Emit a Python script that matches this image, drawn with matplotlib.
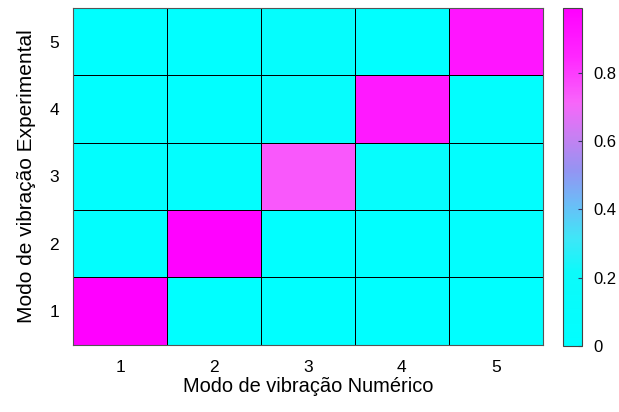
import numpy as np
import matplotlib.pyplot as plt
from matplotlib.colors import LinearSegmentedColormap

plt.rcParams['font.family'] = ['Liberation Sans', 'DejaVu Sans']

# modos (numerico no eixo x, experimental no eixo y)
modos_num = [1, 2, 3, 4, 5]
modos_exp = [1, 2, 3, 4, 5]

# valores MAC, linhas = modo experimental 1..5, colunas = modo numerico 1..5
mac_exp1 = [0.99, 0.01, 0.00, 0.00, 0.01]
mac_exp2 = [0.03, 0.98, 0.02, 0.02, 0.03]
mac_exp3 = [0.04, 0.05, 0.74, 0.10, 0.04]
mac_exp4 = [0.02, 0.02, 0.10, 0.90, 0.03]
mac_exp5 = [0.01, 0.02, 0.08, 0.02, 0.91]

cbar_ticks = [0, 0.2, 0.4, 0.6, 0.8]

mac = np.array([mac_exp1, mac_exp2, mac_exp3, mac_exp4, mac_exp5])

cores = [(0.00, (0.00, 1.00, 1.00)),
         (0.22, (0.05, 0.98, 0.98)),
         (0.32, (0.25, 0.90, 0.97)),
         (0.42, (0.42, 0.74, 0.97)),
         (0.52, (0.58, 0.58, 0.95)),
         (0.62, (0.78, 0.50, 0.95)),
         (0.72, (0.97, 0.40, 0.98)),
         (0.85, (1.00, 0.16, 1.00)),
         (1.00, (1.00, 0.00, 1.00))]
cmap = LinearSegmentedColormap.from_list('mac', cores)

fig = plt.figure(figsize=(6.19, 4.12), dpi=100)
ax = fig.add_axes([0.118, 0.163, 0.759, 0.818])
cax = fig.add_axes([0.9095, 0.160, 0.031, 0.821])

xe = np.arange(len(modos_num) + 1) + 0.5
ye = np.arange(len(modos_exp) + 1) + 0.5
pc = ax.pcolormesh(xe, ye, mac, cmap=cmap, vmin=0, vmax=mac.max(),
                   edgecolors='black', linewidth=0.6)

ax.set_xticks(modos_num)
ax.set_yticks(modos_exp)
ax.tick_params(length=0, labelsize=12.5, pad=10)
ax.tick_params(axis='x', pad=11)
for s in ax.spines.values():
    s.set_color('#555555')
    s.set_linewidth(0.8)
ax.set_xlabel('Modo de vibração Numérico', fontsize=14.4, labelpad=1)
ax.set_ylabel('Modo de vibração Experimental', fontsize=15, labelpad=10)

cb = fig.colorbar(pc, cax=cax, ticks=cbar_ticks)
cb.ax.set_yticklabels(['0', '0.2', '0.4', '0.6', '0.8'])
cb.ax.tick_params(direction='in', length=3, labelsize=12, pad=8, color='#333366')
cb.outline.set_edgecolor('#444444')
cb.outline.set_linewidth(0.8)

fig.savefig('out.png', dpi=100)
